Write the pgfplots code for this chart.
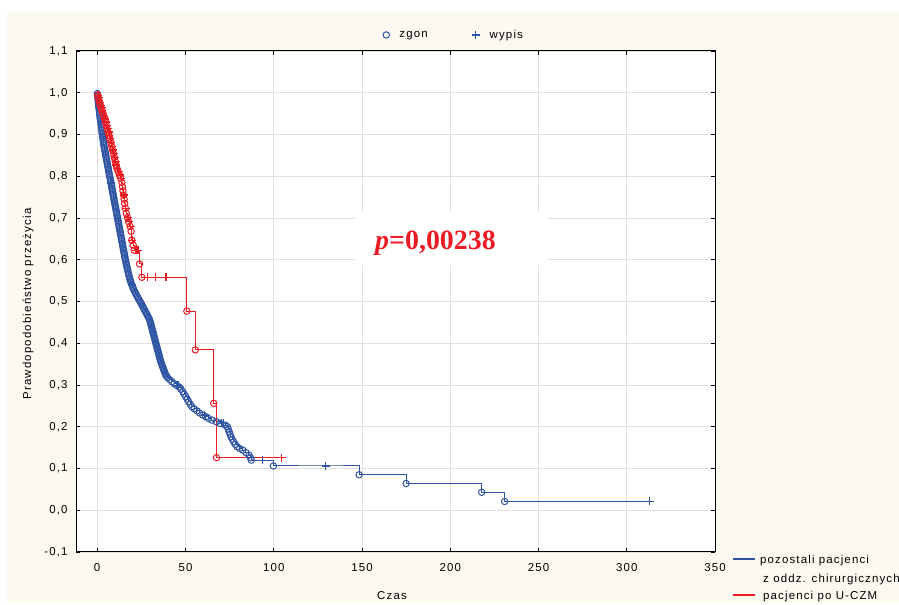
\documentclass[border=0pt]{standalone}
\usepackage{pgfplots}
\pgfplotsset{compat=1.18}
\usepackage{pgfplotstable}
\usepackage{fontspec}
\setmainfont[LetterSpace=10]{Liberation Sans}
\newfontfamily\pfont{Liberation Serif}
\definecolor{kmblue}{RGB}{46,84,164}
\definecolor{kmred}{RGB}{237,28,36}
\definecolor{cream}{RGB}{252,249,241}
\definecolor{gridgray}{RGB}{224,224,224}

% t = time, S = survival, d: 1 = zgon (death), 0 = wypis (censored), 2 = start
\pgfplotstableread{
t S d
0.0 1.000 2
0.1 0.998 1
0.2 0.995 1
0.3 0.991 1
0.4 0.988 1
0.5 0.984 1
0.6 0.980 1
0.7 0.976 1
0.8 0.972 1
0.9 0.968 1
1.0 0.964 1
1.15 0.960 1
1.3 0.955 1
1.4 0.950 1
1.5 0.946 1
1.65 0.941 1
1.8 0.937 1
1.95 0.932 1
2.1 0.928 1
2.25 0.923 1
2.4 0.919 1
2.5 0.914 1
2.6 0.910 1
2.75 0.905 1
2.9 0.901 1
3.05 0.901 0
3.1 0.896 1
3.2 0.892 1
3.35 0.887 1
3.5 0.883 1
3.65 0.878 1
3.8 0.874 1
4.0 0.869 1
4.2 0.865 1
4.4 0.860 1
4.6 0.856 1
4.8 0.851 1
5.0 0.847 1
5.2 0.842 1
5.4 0.838 1
5.6 0.833 1
5.8 0.829 1
6.0 0.824 1
6.2 0.820 1
6.4 0.815 1
6.6 0.811 1
6.8 0.806 1
7.0 0.802 1
7.2 0.797 1
7.4 0.793 1
7.6 0.788 1
7.8 0.784 1
8.0 0.784 0
8.05 0.779 1
8.2 0.775 1
8.4 0.770 1
8.6 0.766 1
8.8 0.761 1
9.0 0.757 1
9.2 0.752 1
9.4 0.748 1
9.6 0.743 1
9.8 0.739 1
10.0 0.734 1
10.2 0.730 1
10.4 0.725 1
10.6 0.721 1
10.8 0.716 1
11.0 0.712 1
11.2 0.707 1
11.4 0.703 1
11.6 0.698 1
11.8 0.694 1
12.0 0.689 1
12.2 0.685 1
12.4 0.680 1
12.6 0.676 1
12.8 0.671 1
13.0 0.667 1
13.2 0.662 1
13.4 0.658 1
13.6 0.653 1
13.8 0.649 1
14.0 0.644 1
14.2 0.640 1
14.4 0.635 1
14.6 0.631 1
14.8 0.626 1
15.0 0.622 1
15.2 0.617 1
15.4 0.613 1
15.6 0.608 1
15.8 0.604 1
16.0 0.599 1
16.2 0.595 1
16.45 0.590 1
16.7 0.586 1
16.95 0.581 1
17.2 0.577 1
17.45 0.572 1
17.7 0.568 1
17.95 0.563 1
18.2 0.559 1
18.5 0.554 1
18.8 0.550 1
19.15 0.545 1
19.5 0.541 1
20.0 0.541 0
20.1 0.536 1
20.3 0.532 1
20.75 0.528 1
21.2 0.524 1
21.7 0.520 1
22.2 0.516 1
22.7 0.512 1
23.2 0.508 1
23.75 0.504 1
24.3 0.500 1
24.8 0.496 1
25.3 0.492 1
25.8 0.488 1
26.3 0.484 1
26.8 0.480 1
27.3 0.476 1
27.8 0.472 1
28.3 0.468 1
28.8 0.464 1
29.3 0.460 1
29.65 0.456 1
30.0 0.452 1
30.25 0.448 1
30.5 0.444 1
30.75 0.440 1
31.0 0.436 1
31.25 0.432 1
31.5 0.428 1
31.75 0.424 1
32.0 0.420 1
32.25 0.416 1
32.5 0.412 1
32.75 0.408 1
33.0 0.404 1
33.25 0.400 1
33.5 0.396 1
33.75 0.392 1
34.0 0.388 1
34.25 0.384 1
34.5 0.380 1
34.75 0.376 1
35.0 0.372 1
35.25 0.368 1
35.5 0.364 1
35.75 0.360 1
36.0 0.356 1
36.35 0.352 1
36.7 0.348 1
37.05 0.344 1
37.4 0.340 1
37.75 0.336 1
38.1 0.332 1
38.45 0.328 1
38.8 0.324 1
39.3 0.321 1
39.8 0.318 1
41.0 0.313 1
42.3 0.308 1
43.6 0.303 1
45.0 0.299 1
45.8 0.299 0
46.5 0.295 1
47.5 0.290 1
48.5 0.284 1
49.3 0.278 1
50.2 0.272 1
51.0 0.266 1
51.8 0.260 1
52.7 0.254 1
53.6 0.248 1
55.0 0.243 1
56.5 0.238 1
58.0 0.233 1
59.8 0.228 1
60.8 0.228 0
61.5 0.224 1
63.0 0.220 1
65.0 0.216 1
67.5 0.212 1
69.6 0.208 1
70.6 0.208 0
71.5 0.208 0
72.5 0.204 1
73.8 0.200 1
74.3 0.194 1
74.8 0.188 1
75.3 0.182 1
75.8 0.176 1
76.5 0.170 1
77.3 0.164 1
78.2 0.158 1
79.3 0.152 1
80.7 0.148 1
82.5 0.144 1
84.3 0.138 1
86.0 0.132 1
86.8 0.126 1
87.3 0.120 1
93.5 0.120 0
99.8 0.106 1
129.5 0.106 0
148.4 0.085 1
175.0 0.064 1
217.8 0.043 1
230.8 0.021 1
313.0 0.021 0
}\bluetab

\pgfplotstableread{
t S d
0.0 1.000 2
0.3 0.994 1
0.5 0.994 0
0.7 0.988 1
0.85 0.988 0
1.0 0.982 1
1.2 0.982 0
1.4 0.976 1
1.6 0.976 0
1.8 0.970 1
2.0 0.970 0
2.2 0.964 1
2.45 0.964 0
2.7 0.958 1
2.9 0.958 0
3.2 0.951 1
3.45 0.951 0
3.7 0.944 1
3.9 0.944 0
4.2 0.937 1
4.45 0.937 0
4.7 0.930 1
4.9 0.930 0
5.2 0.922 1
5.45 0.922 0
5.7 0.914 1
5.9 0.914 0
6.2 0.906 1
6.45 0.906 0
6.7 0.898 1
6.9 0.898 0
7.2 0.890 1
7.45 0.890 0
7.7 0.881 1
7.9 0.881 0
8.2 0.872 1
8.45 0.872 0
8.7 0.863 1
8.9 0.863 0
9.2 0.854 1
9.45 0.854 0
9.7 0.845 1
9.9 0.845 0
10.2 0.836 1
10.45 0.836 0
10.7 0.827 1
10.9 0.827 0
11.2 0.819 1
11.5 0.819 0
11.9 0.811 1
12.2 0.811 0
12.6 0.803 1
13.0 0.803 0
13.3 0.795 1
13.6 0.795 0
14.0 0.785 1
14.3 0.775 1
14.6 0.765 1
14.9 0.755 1
15.1 0.755 0
15.3 0.745 1
15.6 0.735 1
16.0 0.723 1
16.2 0.723 0
16.5 0.711 1
17.2 0.701 1
17.5 0.701 0
17.8 0.691 1
18.2 0.691 0
18.6 0.680 1
19.0 0.680 0
19.2 0.668 1
19.6 0.647 1
19.9 0.647 0
20.4 0.635 1
20.9 0.623 1
21.8 0.623 0
22.6 0.623 0
23.3 0.623 0
24.0 0.590 1
25.3 0.558 1
28.3 0.558 0
32.9 0.558 0
39.0 0.558 0
50.8 0.477 1
55.6 0.384 1
66.0 0.256 1
67.6 0.126 1
104.6 0.126 0
}\redtab

\begin{document}
\begin{tikzpicture}[x=1bp,y=1bp]
\fill[white] (0,0) rectangle (899,605);
\fill[cream] (7,2) rectangle (899,593);
\begin{axis}[
  at={(76bp,53bp)}, anchor=south west,
  scale only axis, width=639bp, height=501bp,
  xmin=-12, xmax=350, ymin=-0.1, ymax=1.1,
  xtick={0,50,100,150,200,250,300,350},
  ytick={-0.1,0,0.1,0.2,0.3,0.4,0.5,0.6,0.7,0.8,0.9,1.0,1.1},
  axis background/.style={fill=white},
  grid=major, major grid style={gridgray, line width=0.9bp},
  tick align=inside, major tick length=4bp,
  tick style={black, line width=0.8bp},
  axis line style={black, line width=1bp},
  font=\fontsize{11.5}{13}\selectfont,
  /pgf/number format/assume math mode=true,
  yticklabel style={/pgf/number format/.cd, fixed, fixed zerofill, precision=1, use comma},
  xticklabel style={/pgf/number format/.cd, fixed, precision=0},
  yticklabel shift=5bp, xticklabel shift=8bp,
]
\addplot[const plot, kmblue, line width=1bp, no marks] table[x=t,y=S]{\bluetab};
\addplot[only marks, mark=o, kmblue, mark size=3.2bp, mark options={kmblue, line width=1bp},
  restrict expr to domain={\thisrow{d}}{1:1}] table[x=t,y=S]{\bluetab};
\addplot[only marks, mark=+, kmblue, mark size=4bp, mark options={kmblue, line width=1.2bp},
  restrict expr to domain={\thisrow{d}}{0:0}] table[x=t,y=S]{\bluetab};

\addplot[const plot, kmred, line width=1bp, no marks] table[x=t,y=S]{\redtab};
\addplot[only marks, mark=o, kmred, mark size=3.2bp, mark options={kmred, line width=1bp},
  restrict expr to domain={\thisrow{d}}{1:1}] table[x=t,y=S]{\redtab};
\addplot[only marks, mark=+, kmred, mark size=4bp, mark options={kmred, line width=1.2bp},
  restrict expr to domain={\thisrow{d}}{0:0}] table[x=t,y=S]{\redtab};

\node[fill=white, minimum width=193bp, minimum height=53bp, inner sep=0pt] at (axis cs:200.7,0.651) {};
\node[anchor=base west, inner sep=0pt, text=kmred, font=\pfont\fontsize{28}{30}\selectfont\bfseries]
  at (axis cs:157.4,0.6235) {\textit{p}=0,00238};
\end{axis}

\begin{axis}[
  at={(76bp,53bp)}, anchor=south west,
  scale only axis, width=639bp, height=501bp,
  hide axis, xmin=0, xmax=1, ymin=0, ymax=1,
  legend columns=2,
  legend style={at={(0.5915,1.032)}, anchor=center, draw=none, fill=none,
    font=\fontsize{11.5}{13}\selectfont,
    /tikz/every even column/.append style={column sep=42bp}},
]
\addlegendimage{only marks, mark=o, kmblue, mark size=3.2bp, mark options={kmblue, line width=1bp}}
\addlegendimage{only marks, mark=+, kmblue, mark size=4bp, mark options={kmblue, line width=1.2bp}}
\legend{\hspace{8bp}zgon, \hspace{8bp}wypis}
\end{axis}

% line legend (bottom right)
\draw[kmblue, line width=1.2bp] (733,46) -- (755,46);
\node[anchor=base west, inner sep=0pt, font=\fontsize{11.5}{13}\selectfont] at (760,41) {pozostali pacjenci};
\node[anchor=base west, inner sep=0pt, font=\fontsize{11.5}{13}\selectfont] at (763,22) {z oddz. chirurgicznych};
\draw[kmred, line width=1.2bp] (733,10) -- (755,10);
\node[anchor=base west, inner sep=0pt, font=\fontsize{11.5}{13}\selectfont] at (763,5) {pacjenci po U-CZM};

\node[font=\fontsize{11.5}{13}\selectfont] at (392,9) {Czas};
\node[font=\fontsize{11.5}{13}\selectfont, rotate=90] at (28,301) {Prawdopodobieństwo przeżycia};

\pgfresetboundingbox
\useasboundingbox (0,0) rectangle (899,605);
\end{tikzpicture}
\end{document}
